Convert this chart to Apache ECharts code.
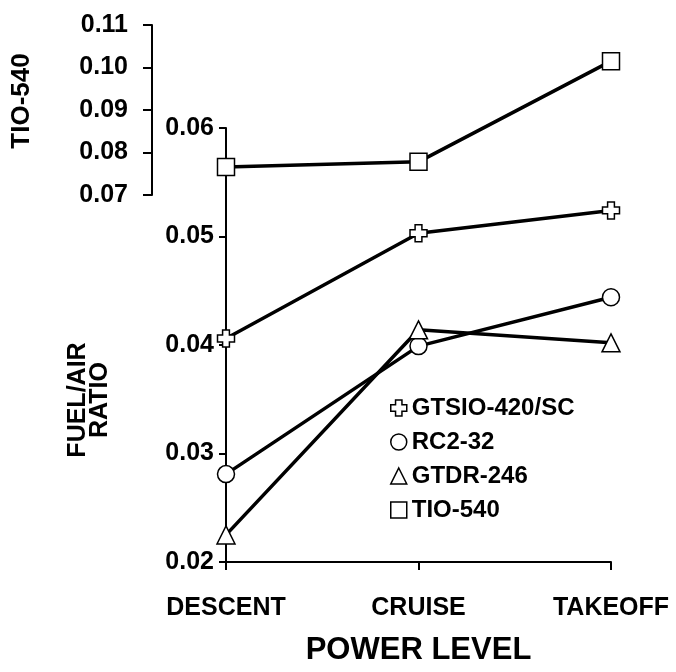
<!DOCTYPE html>
<html>
<head>
<meta charset="utf-8">
<script src="https://cdn.jsdelivr.net/npm/echarts@6/dist/echarts.min.js"></script>
<style>
  html, body { margin: 0; padding: 0; background: #fff; }
  #chart { width: 676px; height: 672px; }
</style>
</head>
<body>
<div id="chart"></div>
<script>
const categories = ['DESCENT', 'CRUISE', 'TAKEOFF']
const lowerTicks = [0.02, 0.03, 0.04, 0.05, 0.06]
const upperTicks = [0.07, 0.08, 0.09, 0.10, 0.11]
const gtsio = [0.0406, 0.0503, 0.0524]
const rc2 = [0.0281, 0.0399, 0.0444]
const gtdr = [0.0225, 0.0414, 0.0402]
const tio540 = [0.0766, 0.0778, 0.1015]

const FONT = 'Liberation Sans'
const crossPath = 'path://M3,0 L7,0 L7,3 L10,3 L10,7 L7,7 L7,10 L3,10 L3,7 L0,7 L0,3 L3,3 Z'
const markerStyle = { color: '#fff', borderColor: '#000', borderWidth: 1.5 }
const lineStyle = { color: '#000', width: 3.5 }
const boldText = { fontFamily: FONT, fontWeight: 'bold', color: '#000' }

const chart = echarts.init(document.getElementById('chart'))

function yAxisBase(ticks, gridIndex, margin, tickLen) {
  return {
    type: 'value',
    gridIndex,
    min: ticks[0],
    max: ticks[ticks.length - 1],
    interval: 0.01,
    splitLine: { show: false },
    axisLine: { show: true, lineStyle: { color: '#000', width: 2 } },
    axisTick: { show: true, length: tickLen, lineStyle: { color: '#000', width: 2 } },
    axisLabel: { ...boldText, fontSize: 25, margin, formatter: v => v.toFixed(2) },
  }
}

function series(name, data, symbol, size, idx) {
  return {
    name,
    type: 'line',
    data,
    xAxisIndex: idx,
    yAxisIndex: idx,
    symbol,
    symbolSize: size,
    showAllSymbol: true,
    itemStyle: markerStyle,
    lineStyle,
    z: 3,
  }
}

chart.setOption({
  backgroundColor: '#fff',
  animation: false,
  grid: [
    { left: 226, right: 65, top: 128, bottom: 110 },
    { left: 226, right: 65, top: 25, height: 170 },
  ],
  xAxis: [
    {
      type: 'category',
      gridIndex: 0,
      data: categories,
      boundaryGap: false,
      axisLine: { lineStyle: { color: '#000', width: 2 } },
      axisTick: { show: true, length: 8, lineStyle: { color: '#000', width: 2 } },
      axisLabel: { ...boldText, fontSize: 25, margin: 34 },
      name: 'POWER LEVEL',
      nameLocation: 'middle',
      nameGap: 73,
      nameTextStyle: { ...boldText, fontSize: 31 },
    },
    {
      type: 'category',
      gridIndex: 1,
      data: categories,
      boundaryGap: false,
      show: false,
    },
  ],
  yAxis: [
    yAxisBase(lowerTicks, 0, 12, 7),
    { ...yAxisBase(upperTicks, 1, 24, 9), offset: 74 },
  ],
  legend: {
    orient: 'vertical',
    left: 385,
    top: 391,
    itemGap: 10,
    itemWidth: 16,
    itemHeight: 16,
    itemStyle: markerStyle,
    textStyle: { ...boldText, fontSize: 24 },
    data: [
      { name: 'GTSIO-420/SC', icon: crossPath },
      { name: 'RC2-32', icon: 'circle' },
      { name: 'GTDR-246', icon: 'triangle' },
      { name: 'TIO-540', icon: 'rect' },
    ],
  },
  graphic: [
    {
      type: 'text',
      x: 22,
      y: 101,
      rotation: Math.PI / 2,
      style: {
        text: 'TIO-540',
        align: 'center',
        verticalAlign: 'middle',
        font: 'bold 26px "Liberation Sans"',
        fill: '#000',
      },
    },
    {
      type: 'text',
      x: 89,
      y: 400,
      rotation: Math.PI / 2,
      style: {
        text: 'FUEL/AIR\nRATIO',
        align: 'center',
        verticalAlign: 'middle',
        font: 'bold 25px "Liberation Sans"',
        fill: '#000',
        lineHeight: 22,
      },
    },
  ],
  series: [
    series('GTSIO-420/SC', gtsio, crossPath, 17, 0),
    series('RC2-32', rc2, 'circle', 17, 0),
    series('GTDR-246', gtdr, 'triangle', 18, 0),
    series('TIO-540', tio540, 'rect', 17, 1),
  ],
})
</script>
</body>
</html>
